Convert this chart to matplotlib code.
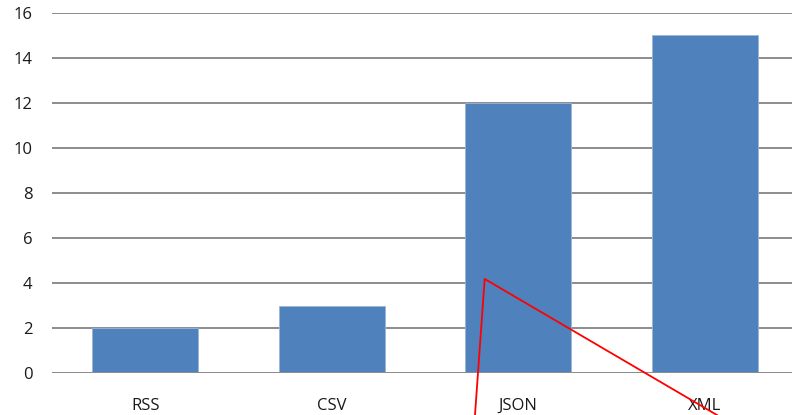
import matplotlib
matplotlib.use("Agg")
import numpy as np
from matplotlib import pyplot as plt

# data
formats = ['RSS', 'CSV', 'JSON', 'XML']
counts = [2, 3, 12, 15]
yticks = [0, 2, 4, 6, 8, 10, 12, 14, 16]

# red annotation strokes drawn over the chart (data coords)
pen_x = [1.768, 1.82, 3.066]
pen_y = [-1.87, 4.18, -1.87]

plt.rcParams['font.family'] = ['Open Sans', 'DejaVu Sans']

fig = plt.figure(figsize=(7.92, 4.15), dpi=100)
ax = fig.add_axes([52 / 792, 42 / 415, 746 / 792, 360 / 415])

x = np.arange(len(formats))
ax.bar(x, counts, width=0.57, color='#4F81BD', edgecolor='#9BB5D8',
       linewidth=0.6, zorder=3)

ax.set_xlim(-0.5, 3.5)
ax.set_ylim(0, 16)
ax.set_yticks(yticks)
ax.set_xticks(x)
ax.set_xticklabels(formats)
ax.yaxis.grid(True, color='#8c8c8c', linewidth=1.4, zorder=0)
ax.set_axisbelow(True)
for s in ax.spines.values():
    s.set_visible(False)
ax.axhline(0, color='#8c8c8c', linewidth=1.4, zorder=4)
ax.tick_params(length=0, labelsize=12, colors='#1a1a1a')
ax.tick_params(axis='y', pad=14)
ax.tick_params(axis='x', pad=18)

ax.plot(pen_x, pen_y, color='#ff0000', linewidth=1.3, clip_on=False, zorder=5)

fig.savefig('out.png', dpi=100)
